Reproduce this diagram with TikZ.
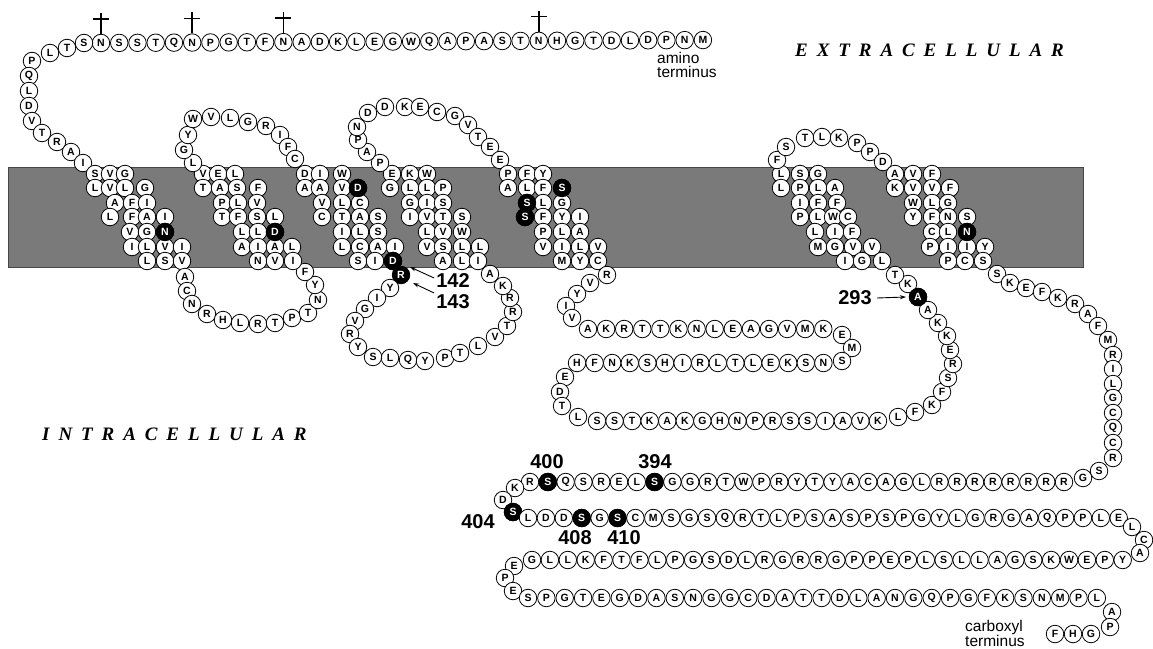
\documentclass[tikz,border=0pt]{standalone}
\usepackage{fontspec}
\setmainfont{Liberation Serif}
\setsansfont{Liberation Sans}
\newfontfamily\regfont[LetterSpace=47]{Liberation Serif}
\usetikzlibrary{arrows.meta}
\tikzset{
 res/.style={circle,draw=black,fill=white,line width=0.8pt,minimum size=17.5pt,inner sep=0pt,
   font=\sffamily\bfseries\fontsize{10.5}{10.5}\selectfont},
 resb/.style={res,fill=black,text=white},
 num/.style={font=\sffamily\bfseries\fontsize{20}{20}\selectfont,inner sep=0pt},
 term/.style={font=\sffamily\fontsize{15.5}{15.5}\selectfont,inner sep=0pt,anchor=base west},
 region/.style={font=\regfont\bfseries\itshape\fontsize{19}{19}\selectfont,inner sep=0pt,anchor=west},
 ptr/.style={-{Stealth[length=6pt,width=4pt]},line width=0.9pt},
 cross/.style={line width=1.6pt},
 membrane/.style={fill=black!52,draw=black!72,line width=0.6pt}
}
\newcommand\resrow[5]{\foreach \t [count=\i from 0] in {#5} {\node[res] (#1-\i) at ({#2+\i*#4},#3) {\t};}}
\newcommand\respts[2]{\foreach \x/\y/\t [count=\i] in {#2} {\node[res] (#1-\i) at (\x,\y) {\t};}}
\newcommand\restm[3]{\foreach \x/\t [count=\i] in {#3} {\node[res] (#1-\i) at (\x,#2) {\t};}}
\begin{document}
\begin{tikzpicture}[x=1pt,y=-1pt]
\useasboundingbox (0,0) rectangle (1153,648);
\fill[white] (0,0) rectangle (1153,648);
% membrane
\path[membrane] (8,167) rectangle (1083,267);

% amino terminus, top row
\foreach \t [count=\i from 0] in {N,S,S,T,Q,N,P,G,T,F,N,A,D,K,L,E,G,W,Q,A,P,A,S,T,N,H,G,T,D,L,D,P,N,M}
  {\node[res] (nt-\i) at ({101+\i*18.24},{43-\i*0.09}) {\t};}
\respts{nc}{84/43/S,67/48/T,50/53/L,32/61/P,29/76/Q,29/91/L,29/106/D,32/121/V,42/133/T,57/142/R,71/152/A,83/163/I}
\foreach \n in {nt-0,nt-5,nt-10,nt-24}{
  \draw[cross] (\n.north) -- ++(0,-21);
  \draw[cross] ([shift={(-8,-15)}]\n.north) -- ++(16,0);}

% TM1
\restm{ta1}{174}{95/S,110/V,125/G}
\restm{tb1}{188}{95/L,110/V,125/L,145/G}
\restm{tc1}{203}{115/A,132/F,147/I}
\restm{td1}{217}{110/L,132/F,147/A,165/I}
\restm{te1}{232}{130/V,147/G,165/N}
\restm{tf1}{247}{132/I,147/L,165/V,182/I}
\restm{tg1}{261}{147/L,165/S,182/V}
\node[resb] at (te1-3) {N};
% ICL1
\respts{il1}{185/277/A,187/291/C,192/304/N,207/314/R,223/320/H,240/323/L,258/324/R,275/323/T,292/318/P,308/313/T,318/300/N,315/285/Y,305/272/F}
% TM2
\restm{ta2}{174}{203/V,218/E,235/L}
\restm{tb2}{188}{203/T,220/A,237/S,258/F}
\restm{tc2}{203}{222/P,238/L,257/V}
\restm{td2}{217}{222/T,238/F,257/S,275/L}
\restm{te2}{232}{242/L,258/L,275/D}
\restm{tf2}{247}{242/A,258/I,275/A,292/L}
\restm{tg2}{261}{258/N,275/V,293/I}
\node[resb] at (te2-3) {D};
% ECL1
\respts{el1}{193/163/L,184/150/G,188/135/Y,193/119/W,211/117/V,230/118/L,248/122/G,266/126/R,280/135/I,288/147/F,295/159/C}
% TM3
\restm{ta3}{174}{305/D,320/I,342/W}
\restm{tb3}{188}{305/A,320/A,342/V,358/D}
\restm{tc3}{203}{322/V,342/L,360/C}
\restm{td3}{217}{322/C,342/T,360/A,378/S}
\restm{te3}{232}{342/I,360/L,378/S}
\restm{tf3}{247}{342/L,360/C,378/A,395/I}
\restm{tg3}{261}{358/S,375/I,393/D}
\node[resb] at (tb3-4) {D};
\node[resb] (d142) at (tg3-3) {D};
\node[resb] (r143) at (401,275) {R};
% ICL2
\respts{il2}{390/288/Y,377/298/I,365/309/G,355/321/V,350/334/R,358/347/Y,373/357/S,390/358/L,408/360/Q,425/361/Y,445/358/P,460/353/T,478/346/L,495/337/V,507/326/T,513/312/R,510/298/R,503/286/K,490/274/A}
% TM4
\restm{ta4}{174}{392/E,410/K,427/W}
\restm{tb4}{188}{390/G,410/L,427/L,443/P}
\restm{tc4}{203}{410/G,427/I,443/S}
\restm{td4}{217}{410/I,427/V,443/T,462/S}
\restm{te4}{232}{427/L,443/V,462/W}
\restm{tf4}{247}{427/V,443/S,462/L,480/L}
\restm{tg4}{261}{443/A,462/L,478/I}
% ECL2
\respts{el2}{380/163/P,367/152/A,358/140/P,357/127/N,368/113/D,385/107/D,405/107/K,420/107/E,437/112/C,455/116/G,468/125/V,478/137/T,490/147/E,500/160/E}
% TM5
\restm{ta5}{174}{508/P,527/F,543/Y}
\restm{tb5}{188}{508/A,527/L,543/F,562/S}
\restm{tc5}{203}{527/S,543/L,562/G}
\restm{td5}{217}{525/S,543/F,562/Y,580/I}
\restm{te5}{232}{543/P,562/L,580/A}
\restm{tf5}{247}{543/V,562/I,580/L,598/V}
\restm{tg5}{261}{562/M,580/Y,598/C}
\node[resb] at (tb5-4) {S};
\node[resb] at (tc5-1) {S};
\node[resb] at (td5-1) {S};
% ICL3
\respts{il3a}{607/275/R,590/283/V,577/294/Y,566/306/I,572/318/V}
\resrow{il3b}{588}{329}{18.1}{A,K,R,T,T,K,N,L,E,A,G,V,M,K}
\respts{il3c}{842/335/E,852/348/M,842/361/S}
\resrow{il3d}{577}{363}{17.6}{H,F,N,K,S,H,I,R,L,T,L,E,K,S,N}
\respts{il3e}{565/377/E,560/392/D,562/406/T,578/417/L}
\resrow{il3f}{597}{421}{17.56}{S,S,T,K,A,K,G,H,N,P,R,S,S,I,A,V,K}
\respts{il3g}{898/417/L,915/412/F,932/405/K,942/392/F,948/378/S,953/364/R,950/350/E,947/336/K,938/323/K,928/310/A,918/297/A,908/284/K,895/275/T}
\node[resb] (a293) at (il3g-11) {A};
% TM6
\restm{ta6}{174}{781/L,800/S,818/G}
\restm{tb6}{188}{781/L,800/P,818/L,835/A}
\restm{tc6}{203}{800/I,818/F,837/F}
\restm{td6}{217}{800/P,818/L,833/W,848/C}
\restm{te6}{232}{815/L,835/I,852/F}
\restm{tf6}{247}{818/M,835/G,853/V,872/V}
\restm{tg6}{261}{845/I,862/G,882/L}
% ECL3
\respts{el3}{777/160/F,786/147/S,805/138/T,822/137/L,839/138/K,857/143/P,870/152/P,883/162/D}
% TM7
\restm{ta7}{174}{895/A,913/V,932/F}
\restm{tb7}{188}{895/K,913/V,932/V,950/F}
\restm{tc7}{203}{913/W,932/L,948/G}
\restm{td7}{217}{913/Y,932/F,948/N,967/S}
\restm{te7}{232}{932/C,948/L,967/N}
\restm{tf7}{247}{930/P,948/I,967/I,985/Y}
\restm{tg7}{261}{948/P,965/C,983/S}
\node[resb] at (te7-3) {N};
% carboxyl tail
\respts{ct}{997/274/S,1010/283/K,1026/288/E,1042/292/F,1058/298/K,1075/304/R,1088/314/A,1098/326/F,1108/340/M,1113/355/R,1113/369/I,1113/384/L,1113/398/G,1113/413/C,1113/428/Q,1113/443/C,1113/458/R,1099/471/S,1083/478/G}
\resrow{ca}{530}{482}{17.8}{R,S,Q,S,R,E,L,S,G,G,R,T,W,P,R,Y,T,Y,A,C,A,G,L,R,R,R,R,R,R,R,R}
\node[resb] (s400) at (ca-1) {S};
\node[resb] (s394) at (ca-7) {S};
\respts{cl}{515/488/K,503/500/D,513/512/S}
\node[resb] (s404) at (cl-3) {S};
\resrow{cb}{528}{518}{17.9}{L,D,D,S,G,S,C,M,S,G,S,Q,R,T,L,P,S,A,S,P,S,P,G,Y,L,G,R,G,A,Q,P,P,L,E}
\node[resb] (s408) at (cb-3) {S};
\node[resb] (s410) at (cb-5) {S};
\respts{cr}{1132/527/L,1144/540/C,1140/553/A}
\resrow{cc}{532}{560}{17.9}{G,L,L,K,F,T,F,L,P,G,S,D,L,R,G,R,R,G,P,P,E,P,L,S,L,L,A,G,S,K,W,E,P,Y}
\respts{cl2}{514/566/E,505/578/P,513/591/E}
\resrow{cd}{528}{598}{18.35}{S,P,G,T,E,G,D,A,S,N,G,G,C,D,A,T,T,D,L,A,N,G,Q,P,G,F,K,S,N,M,P,L}
\respts{ce}{1112/612/A,1110/627/P,1091/634/G,1073/634/H,1055/634/F}

% numbers and pointers
\node[num] (n142) at (453,281) {142};
\node[num] (n143) at (453,302) {143};
\coordinate (p142) at (410,267);
\coordinate (p143) at (413,283);
\draw[ptr] ([shift={(-2,-3)}]n142.west) -- (p142);
\draw[ptr] ([shift={(-2,-9)}]n143.west) -- (p143);
\node[num] (n293) at (855,298) {293};
\coordinate (p293) at (906,297);
\draw[ptr] ([xshift=5pt]n293.east) -- (p293);
\node[num] (n400) at (547,462) {400};
\node[num] (n394) at (655,462) {394};
\node[num] (n404) at (478,522) {404};
\node[num] (n408) at (575,538) {408};
\node[num] (n410) at (624,538) {410};

% terminus labels
\node[term] (amino) at (657,63) {amino};
\node[term] (aterm) at (657,77) {terminus};
\node[term] (carb) at (965,631) {carboxyl};
\node[term] (cterm) at (965,646) {terminus};

% region labels
\node[region] (extra) at (795,50) {EXTRACELLULAR};
\node[region] (intra) at (42,434) {INTRACELLULAR};
\end{tikzpicture}
\end{document}
